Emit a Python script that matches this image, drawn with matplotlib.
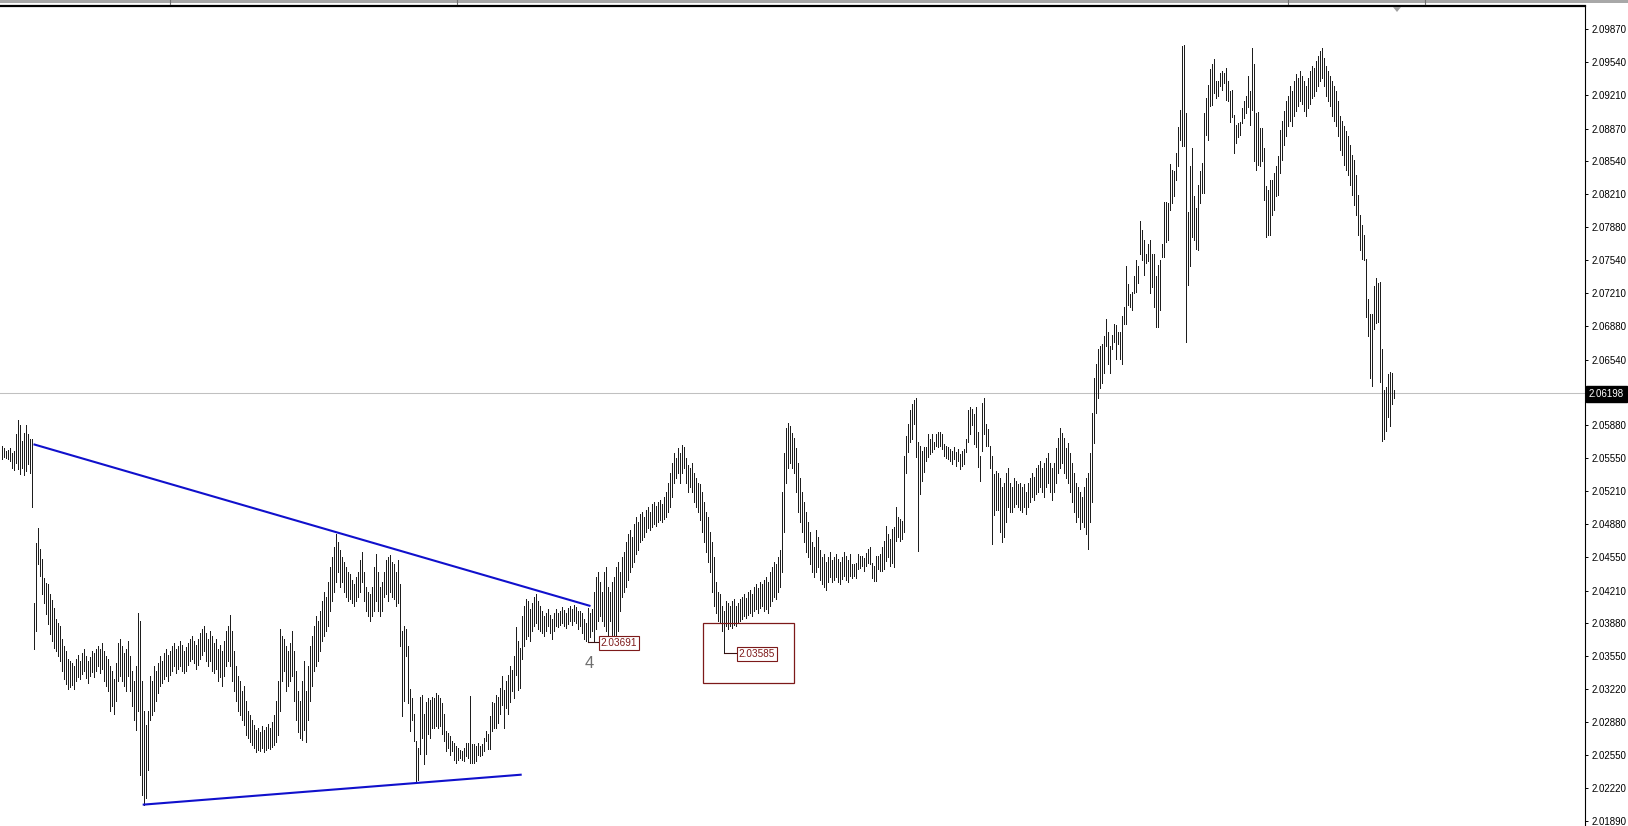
import matplotlib
matplotlib.use("Agg")
import matplotlib.pyplot as plt
from matplotlib.patches import Rectangle, Polygon
from matplotlib.lines import Line2D

# ---------------- data: bar highs / lows (one bar per index) ----------------
highs = [
    2.0567, 2.0565, 2.0562, 2.0563, 2.0565, 2.0560, 2.0562, 2.0579, 2.0593, 2.0588,
    2.0572, 2.0580, 2.0588, 2.0579, 2.0574, 2.0574, 2.0408, 2.0469, 2.0484, 2.0463,
    2.0453, 2.0434, 2.0429, 2.0428, 2.0418, 2.0411, 2.0403, 2.0392, 2.0388, 2.0385,
    2.0372, 2.0365, 2.0360, 2.0352, 2.0350, 2.0348, 2.0345, 2.0352, 2.0356, 2.0350,
    2.0358, 2.0362, 2.0355, 2.0350, 2.0354, 2.0360, 2.0358, 2.0362, 2.0365, 2.0362,
    2.0368, 2.0360, 2.0355, 2.0352, 2.0345, 2.0340, 2.0332, 2.0348, 2.0368, 2.0372,
    2.0365, 2.0358, 2.0362, 2.0370, 2.0355, 2.0340, 2.0330, 2.0345, 2.0398, 2.0390,
    2.0330, 2.0300, 2.0285, 2.0300, 2.0335, 2.0330, 2.0345, 2.0340, 2.0348, 2.0355,
    2.0350, 2.0358, 2.0362, 2.0356, 2.0360, 2.0365, 2.0368, 2.0362, 2.0365, 2.0370,
    2.0366, 2.0360, 2.0364, 2.0368, 2.0372, 2.0375, 2.0370, 2.0366, 2.0372, 2.0378,
    2.0382, 2.0385, 2.0378, 2.0372, 2.0380, 2.0375, 2.0368, 2.0372, 2.0362, 2.0366,
    2.0360, 2.0370, 2.0380, 2.0385, 2.0396, 2.0380, 2.0360, 2.0345, 2.0335, 2.0330,
    2.0320, 2.0325, 2.0310, 2.0300, 2.0295, 2.0290, 2.0285, 2.0280, 2.0282, 2.0278,
    2.0284, 2.0280, 2.0283, 2.0286, 2.0282, 2.0288, 2.0295, 2.0310, 2.0330, 2.0382,
    2.0375, 2.0372, 2.0365, 2.0360, 2.0368, 2.0380, 2.0360, 2.0340, 2.0320, 2.0310,
    2.0330, 2.0350, 2.0320, 2.0345, 2.0365, 2.0375, 2.0385, 2.0395, 2.0390, 2.0400,
    2.0410, 2.0420, 2.0415, 2.0430, 2.0445, 2.0455, 2.0465, 2.0478, 2.0470, 2.0462,
    2.0455, 2.0450, 2.0445, 2.0440, 2.0438, 2.0432, 2.0428, 2.0435, 2.0440, 2.0452,
    2.0460, 2.0440, 2.0425, 2.0420, 2.0418, 2.0425, 2.0445, 2.0458, 2.0440, 2.0425,
    2.0430, 2.0440, 2.0452, 2.0455, 2.0457, 2.0450, 2.0448, 2.0440, 2.0452, 2.0428,
    2.0380, 2.0385, 2.0382, 2.0365, 2.0322, 2.0313, 2.0296, 2.0269, 2.0262, 2.0314,
    2.0316, 2.0296, 2.0309, 2.0313, 2.0311, 2.0314, 2.0313, 2.0318, 2.0316, 2.0313,
    2.0308, 2.0296, 2.0279, 2.0277, 2.0274, 2.0269, 2.0267, 2.0264, 2.0262, 2.0260,
    2.0259, 2.0262, 2.0267, 2.0267, 2.0315, 2.0266, 2.0266, 2.0264, 2.0267, 2.0264,
    2.0266, 2.0272, 2.0279, 2.0276, 2.0294, 2.0309, 2.0308, 2.0316, 2.0314, 2.0323,
    2.0335, 2.0321, 2.0330, 2.0336, 2.0345, 2.0341, 2.0355, 2.0384, 2.0370, 2.0363,
    2.0395, 2.0405, 2.0412, 2.0410, 2.0402, 2.0408, 2.0415, 2.0418, 2.0410, 2.0405,
    2.0400, 2.0395, 2.0398, 2.0402, 2.0396, 2.0392, 2.0398, 2.0402, 2.0398, 2.0400,
    2.0404, 2.0401, 2.0398, 2.0403, 2.0405, 2.0402, 2.0406, 2.0404, 2.0400, 2.0400,
    2.0398, 2.0392, 2.0388, 2.0403, 2.0398, 2.0402, 2.0420, 2.0435, 2.0440, 2.0430,
    2.0420, 2.0440, 2.0445, 2.0425, 2.0420, 2.0430, 2.0435, 2.0445, 2.0450, 2.0440,
    2.0455, 2.0460, 2.0470, 2.0478, 2.0482, 2.0475, 2.0488, 2.0495, 2.0490, 2.0498,
    2.0500, 2.0495, 2.0502, 2.0505, 2.0500, 2.0508, 2.0510, 2.0506, 2.0510, 2.0512,
    2.0508, 2.0515, 2.0520, 2.0530, 2.0540, 2.0550, 2.0560, 2.0555, 2.0565, 2.0560,
    2.0568, 2.0566, 2.0555, 2.0548, 2.0545, 2.0550, 2.0540, 2.0535, 2.0530, 2.0528,
    2.0520, 2.0510, 2.0500, 2.0495, 2.0480, 2.0470, 2.0455, 2.0430, 2.0420, 2.0418,
    2.0405, 2.0400, 2.0410, 2.0408, 2.0405, 2.0410, 2.0412, 2.0405, 2.0408, 2.0412,
    2.0415, 2.0418, 2.0414, 2.0420, 2.0422, 2.0418, 2.0425, 2.0428, 2.0424, 2.0430,
    2.0428, 2.0432, 2.0435, 2.0430, 2.0440, 2.0445, 2.0450, 2.0448, 2.0455, 2.0462,
    2.0520, 2.0560, 2.0585, 2.0590, 2.0587, 2.0580, 2.0575, 2.0565, 2.0550, 2.0535,
    2.0520, 2.0510, 2.0500, 2.0490, 2.0480, 2.0470, 2.0465, 2.0482, 2.0475, 2.0462,
    2.0455, 2.0458, 2.0450, 2.0455, 2.0460, 2.0452, 2.0455, 2.0458, 2.0453, 2.0450,
    2.0455, 2.0460, 2.0456, 2.0452, 2.0458, 2.0448, 2.0448, 2.0449, 2.0458, 2.0456,
    2.0456, 2.0454, 2.0459, 2.0463, 2.0465, 2.0449, 2.0446, 2.0456, 2.0456, 2.0458,
    2.0465, 2.0471, 2.0486, 2.0478, 2.0473, 2.0483, 2.0485, 2.0505, 2.0495, 2.0493,
    2.0491, 2.0557, 2.0577, 2.0589, 2.0603, 2.0609, 2.0613, 2.0615, 2.0571, 2.0567,
    2.0562, 2.0566, 2.0566, 2.0579, 2.0574, 2.0579, 2.0571, 2.0579, 2.0581, 2.0581,
    2.0579, 2.0569, 2.0567, 2.0566, 2.0564, 2.0562, 2.0566, 2.0561, 2.0564, 2.0559,
    2.0562, 2.0564, 2.0574, 2.0603, 2.0606, 2.0604, 2.0599, 2.0606, 2.0581, 2.0557,
    2.0610, 2.0615, 2.0589, 2.0584, 2.0567, 2.0557, 2.0539, 2.0542, 2.0540, 2.0535,
    2.0525, 2.0530, 2.0540, 2.0545, 2.0530, 2.0525, 2.0535, 2.0532, 2.0528, 2.0530,
    2.0525, 2.0528, 2.0520, 2.0530, 2.0535, 2.0540, 2.0536, 2.0545, 2.0548, 2.0552,
    2.0545, 2.0550, 2.0555, 2.0560, 2.0550, 2.0545, 2.0550, 2.0565, 2.0575, 2.0585,
    2.0580, 2.0575, 2.0565, 2.0570, 2.0560, 2.0550, 2.0540, 2.0530, 2.0525, 2.0520,
    2.0515, 2.0525, 2.0535, 2.0540, 2.0560, 2.0600, 2.0635, 2.0650, 2.0665, 2.0668,
    2.0670, 2.0678, 2.0695, 2.0682, 2.0668, 2.0679, 2.0690, 2.0689, 2.0682, 2.0682,
    2.0698, 2.0707, 2.0748, 2.0730, 2.0720, 2.0722, 2.0738, 2.0754, 2.0748, 2.0794,
    2.0785, 2.0775, 2.0761, 2.0771, 2.0775, 2.0761, 2.0761, 2.0738, 2.0749, 2.0754,
    2.0771, 2.0813, 2.0813, 2.0812, 2.0851, 2.0845, 2.0844, 2.0862, 2.0889, 2.0906,
    2.0970, 2.0971, 2.0903, 2.0803, 2.0849, 2.0867, 2.0819, 2.0807, 2.0830, 2.0844,
    2.0852, 2.0903, 2.0918, 2.0931, 2.0947, 2.0952, 2.0957, 2.0935, 2.0935, 2.0943,
    2.0945, 2.0943, 2.0948, 2.0935, 2.0925, 2.0926, 2.0901, 2.0891, 2.0893, 2.0894,
    2.0908, 2.0915, 2.0920, 2.0940, 2.0925, 2.0968, 2.0952, 2.0903, 2.0904, 2.0888,
    2.0888, 2.0867, 2.0829, 2.0825, 2.0835, 2.0835, 2.0842, 2.0849, 2.0859, 2.0886,
    2.0895, 2.0905, 2.0915, 2.0920, 2.0930, 2.0925, 2.0935, 2.0942, 2.0938, 2.0945,
    2.0940, 2.0935, 2.0930, 2.0938, 2.0945, 2.0950, 2.0948, 2.0955, 2.0960, 2.0965,
    2.0968, 2.0958, 2.0950, 2.0945, 2.0940, 2.0935, 2.0930, 2.0925, 2.0915, 2.0900,
    2.0895, 2.0890, 2.0885, 2.0880, 2.0870, 2.0860, 2.0855, 2.0840, 2.0820, 2.0800,
    2.0790, 2.0780, 2.0755, 2.0715, 2.0700, 2.0700, 2.0728, 2.0736, 2.0731, 2.0732,
    2.0665, 2.0623, 2.0626, 2.0639, 2.0641, 2.0640, 2.0623,
]
lows = [
    2.0554, 2.0556, 2.0555, 2.0554, 2.0552, 2.0545, 2.0543, 2.0550, 2.0544, 2.0539,
    2.0545, 2.0538, 2.0542, 2.0549, 2.0540, 2.0505, 2.0362, 2.0380, 2.0448, 2.0436,
    2.0418, 2.0408, 2.0397, 2.0387, 2.0377, 2.0370, 2.0363, 2.0360, 2.0355, 2.0350,
    2.0340, 2.0332, 2.0327, 2.0322, 2.0324, 2.0326, 2.0322, 2.0330, 2.0334, 2.0332,
    2.0337, 2.0340, 2.0333, 2.0328, 2.0335, 2.0339, 2.0334, 2.0340, 2.0345, 2.0338,
    2.0342, 2.0330, 2.0325, 2.0320, 2.0300, 2.0305, 2.0296, 2.0310, 2.0330, 2.0335,
    2.0330, 2.0325, 2.0320, 2.0335, 2.0320, 2.0305, 2.0290, 2.0280, 2.0300, 2.0235,
    2.0215, 2.0205, 2.0212, 2.0240, 2.0290, 2.0295, 2.0300, 2.0310, 2.0318, 2.0325,
    2.0328, 2.0332, 2.0335, 2.0330, 2.0336, 2.0340, 2.0345, 2.0338, 2.0342, 2.0345,
    2.0340, 2.0338, 2.0340, 2.0346, 2.0350, 2.0352, 2.0348, 2.0342, 2.0346, 2.0352,
    2.0356, 2.0360, 2.0350, 2.0345, 2.0350, 2.0340, 2.0338, 2.0342, 2.0330, 2.0334,
    2.0325, 2.0335, 2.0345, 2.0350, 2.0345, 2.0330, 2.0320, 2.0310, 2.0300, 2.0295,
    2.0290, 2.0285, 2.0275, 2.0272, 2.0268, 2.0265, 2.0262, 2.0258, 2.0260, 2.0259,
    2.0262, 2.0258, 2.0260, 2.0262, 2.0261, 2.0263, 2.0265, 2.0268, 2.0275, 2.0300,
    2.0330, 2.0340, 2.0320, 2.0325, 2.0330, 2.0335, 2.0310, 2.0290, 2.0278, 2.0272,
    2.0270, 2.0280, 2.0268, 2.0290, 2.0310, 2.0325, 2.0340, 2.0345, 2.0350, 2.0360,
    2.0370, 2.0375, 2.0380, 2.0385, 2.0400, 2.0410, 2.0420, 2.0430, 2.0440, 2.0425,
    2.0430, 2.0420, 2.0415, 2.0410, 2.0412, 2.0408, 2.0405, 2.0410, 2.0415, 2.0420,
    2.0430, 2.0410, 2.0400, 2.0395, 2.0390, 2.0395, 2.0400, 2.0410, 2.0400, 2.0395,
    2.0400, 2.0415, 2.0418, 2.0410, 2.0420, 2.0415, 2.0412, 2.0405, 2.0408, 2.0365,
    2.0294, 2.0310, 2.0355, 2.0308, 2.0279, 2.0290, 2.0269, 2.0228, 2.0230, 2.0256,
    2.0272, 2.0246, 2.0256, 2.0276, 2.0272, 2.0282, 2.0282, 2.0284, 2.0282, 2.0284,
    2.0276, 2.0269, 2.0259, 2.0262, 2.0255, 2.0259, 2.0250, 2.0247, 2.0250, 2.0252,
    2.0250, 2.0249, 2.0254, 2.0252, 2.0247, 2.0247, 2.0247, 2.0249, 2.0255, 2.0254,
    2.0255, 2.0259, 2.0269, 2.0261, 2.0261, 2.0279, 2.0282, 2.0282, 2.0287, 2.0296,
    2.0306, 2.0282, 2.0303, 2.0296, 2.0309, 2.0320, 2.0313, 2.0336, 2.0321, 2.0323,
    2.0352, 2.0365, 2.0372, 2.0375, 2.0370, 2.0380, 2.0385, 2.0388, 2.0382, 2.0380,
    2.0378, 2.0375, 2.0380, 2.0385, 2.0378, 2.0372, 2.0380, 2.0385, 2.0384, 2.0386,
    2.0388, 2.0385, 2.0383, 2.0387, 2.0390, 2.0386, 2.0390, 2.0388, 2.0382, 2.0385,
    2.0378, 2.0372, 2.0370, 2.03691, 2.0374, 2.0380, 2.0370, 2.0382, 2.0390, 2.0395,
    2.0390, 2.0385, 2.0380, 2.0375, 2.0390, 2.0372, 2.0371, 2.0372, 2.0380, 2.0400,
    2.0415, 2.0420, 2.0425, 2.0432, 2.0440, 2.0445, 2.0450, 2.0458, 2.0462, 2.0470,
    2.0472, 2.0475, 2.0480, 2.0484, 2.0482, 2.0485, 2.0488, 2.0486, 2.0490, 2.0492,
    2.0490, 2.0493, 2.0495, 2.0500, 2.0505, 2.0515, 2.0530, 2.0535, 2.0540, 2.0530,
    2.0540, 2.0545, 2.0530, 2.0520, 2.0525, 2.0520, 2.0510, 2.0505, 2.0500, 2.0492,
    2.0480, 2.0470, 2.0460, 2.0450, 2.0440, 2.0420, 2.0405, 2.0398, 2.0390, 2.0388,
    2.0380, 2.03585, 2.0385, 2.0382, 2.0385, 2.0383, 2.0386, 2.0385, 2.0388, 2.0390,
    2.0392, 2.0395, 2.0393, 2.0396, 2.0398, 2.0395, 2.0400, 2.0402, 2.0398, 2.0403,
    2.0405, 2.0400, 2.0402, 2.0398, 2.0405, 2.0410, 2.0415, 2.0412, 2.0420, 2.0425,
    2.0440, 2.0480, 2.0530, 2.0545, 2.0550, 2.0545, 2.0540, 2.0520, 2.0500, 2.0490,
    2.0480, 2.0470, 2.0460, 2.0455, 2.0448, 2.0440, 2.0435, 2.0440, 2.0445, 2.0432,
    2.0428, 2.0425, 2.0422, 2.0430, 2.0435, 2.0430, 2.0432, 2.0435, 2.0430, 2.0428,
    2.0433, 2.0436, 2.0432, 2.0430, 2.0436, 2.0434, 2.0436, 2.0434, 2.0443, 2.0444,
    2.0446, 2.0441, 2.0446, 2.0449, 2.0448, 2.0434, 2.0431, 2.0431, 2.0443, 2.0441,
    2.0441, 2.0443, 2.0451, 2.0455, 2.0446, 2.0449, 2.0445, 2.0471, 2.0475, 2.0471,
    2.0473, 2.0480, 2.0540, 2.0561, 2.0571, 2.0574, 2.0589, 2.0556, 2.0461, 2.0518,
    2.0532, 2.0541, 2.0552, 2.0556, 2.0559, 2.0561, 2.0564, 2.0567, 2.0566, 2.0567,
    2.0564, 2.0557, 2.0555, 2.0554, 2.0552, 2.0549, 2.0554, 2.0547, 2.0552, 2.0544,
    2.0547, 2.0549, 2.0561, 2.0571, 2.0579, 2.0588, 2.0569, 2.0566, 2.0546, 2.0532,
    2.0562, 2.0579, 2.0567, 2.0567, 2.0545, 2.0468, 2.0497, 2.0502, 2.0502, 2.0480,
    2.0470, 2.0475, 2.0490, 2.0505, 2.0500, 2.0500, 2.0505, 2.0508, 2.0505, 2.0502,
    2.0500, 2.0505, 2.0498, 2.0505, 2.0510, 2.0515, 2.0512, 2.0518, 2.0520, 2.0525,
    2.0520, 2.0515, 2.0525, 2.0530, 2.0520, 2.0512, 2.0520, 2.0530, 2.0540, 2.0545,
    2.0550, 2.0540, 2.0535, 2.0530, 2.0520, 2.0510, 2.0500, 2.0490, 2.0495, 2.0483,
    2.0490, 2.0485, 2.0478, 2.0463, 2.0490, 2.0510, 2.0570, 2.0600, 2.0615, 2.0625,
    2.0630, 2.0640, 2.0668, 2.0650, 2.0640, 2.0665, 2.0672, 2.0655, 2.0670, 2.0655,
    2.0650, 2.0690, 2.0690, 2.0709, 2.0707, 2.0704, 2.0721, 2.0722, 2.0731, 2.0761,
    2.0754, 2.0739, 2.0751, 2.0753, 2.0721, 2.0727, 2.0707, 2.0687, 2.0687, 2.0704,
    2.0758, 2.0758, 2.0773, 2.0775, 2.0805, 2.0812, 2.0819, 2.0835, 2.0849, 2.0876,
    2.0869, 2.0869, 2.0672, 2.0729, 2.0748, 2.0778, 2.0775, 2.0766, 2.0765, 2.0812,
    2.0822, 2.0822, 2.0881, 2.0876, 2.0910, 2.0911, 2.0923, 2.0918, 2.0920, 2.0930,
    2.0926, 2.0933, 2.0916, 2.0915, 2.0894, 2.0899, 2.0862, 2.0872, 2.0879, 2.0881,
    2.0893, 2.0898, 2.0903, 2.0909, 2.0891, 2.0906, 2.0854, 2.0845, 2.0850, 2.0849,
    2.0854, 2.0815, 2.0778, 2.0780, 2.0780, 2.0800, 2.0805, 2.0819, 2.0820, 2.0842,
    2.0855, 2.0870, 2.0880, 2.0890, 2.0895, 2.0890, 2.0900, 2.0905, 2.0910, 2.0915,
    2.0912, 2.0905, 2.0900, 2.0908, 2.0912, 2.0918, 2.0920, 2.0925, 2.0930, 2.0935,
    2.0938, 2.0930, 2.0920, 2.0915, 2.0910, 2.0900, 2.0895, 2.0890, 2.0880, 2.0865,
    2.0860, 2.0850, 2.0845, 2.0840, 2.0830, 2.0820, 2.0810, 2.0800, 2.0780, 2.0765,
    2.0755, 2.0754, 2.0697, 2.0678, 2.0635, 2.0627, 2.0685, 2.0691, 2.0692, 2.0631,
    2.0572, 2.0574, 2.0582, 2.0596, 2.0587, 2.0609, 2.0615,
]

tick_labels = ["2.09870", "2.09540", "2.09210", "2.08870", "2.08540", "2.08210",
               "2.07880", "2.07540", "2.07210", "2.06880", "2.06540", "2.05880",
               "2.05550", "2.05210", "2.04880", "2.04550", "2.04210", "2.03880",
               "2.03550", "2.03220", "2.02880", "2.02550", "2.02220", "2.01890"]
tick_values = [float(t) for t in tick_labels]

current_price = 2.06198

upper_trend_x = [16.0, 294.5]
upper_trend_y = [2.05686, 2.04054]
lower_trend_x = [70.6, 260.1]
lower_trend_y = [2.02050, 2.02353]

mark_index = [293, 361]
mark_price = [2.03691, 2.03585]
mark_text = ["2.03691", "2.03585"]
mark_box_x = [298.5, 367.5]

rect_x = [350.5, 396.0]
rect_y = [2.03277, 2.03883]

wave_label = "4"
wave_x = 294.0
wave_y = 2.03479

# ---------------- figure ----------------
W, H = 1628, 826
FONT = "Liberation Sans"
fig = plt.figure(figsize=(W / 100, H / 100), dpi=100)
fig.patch.set_facecolor("white")

ax_right = 1585
ax_top = 6
ax = fig.add_axes([0, 0, ax_right / W, (H - ax_top) / H])
ax.set_facecolor("white")

n = min(len(highs), len(lows))
xs = list(range(n))
ax.vlines(xs, lows[:n], highs[:n], colors="#1e1e1e", linewidth=0.5,
          antialiased=False, zorder=3)

# current price line
ax.axhline(current_price, color="#c0c0c0", linewidth=0.75, zorder=1)

# trend lines
ax.plot(upper_trend_x, upper_trend_y, color="#1010cc", linewidth=1.5,
        solid_capstyle="butt", zorder=4)
ax.plot(lower_trend_x, lower_trend_y, color="#1010cc", linewidth=1.5,
        solid_capstyle="butt", zorder=4)

maroon = "#7d1a1a"
# rectangle
ax.add_patch(Rectangle((rect_x[0], rect_y[0]), rect_x[1] - rect_x[0],
                       rect_y[1] - rect_y[0], fill=False, edgecolor=maroon,
                       linewidth=0.9, zorder=5))

# price marks
for xi, pr, tx, bx in zip(mark_index, mark_price, mark_text, mark_box_x):
    ax.plot([xi, bx], [pr, pr], color="#3a1010", linewidth=0.8, zorder=5)
    ax.text(bx + 1.0, pr - 0.00012, tx, fontsize=7.2, family=FONT, color=maroon,
            ha="left", va="center", zorder=6,
            bbox=dict(boxstyle="square,pad=0.18", facecolor="white",
                      edgecolor=maroon, linewidth=0.8))

ax.text(wave_x, wave_y, wave_label, fontsize=12, family=FONT, color="#6e6e6e",
        ha="center", va="center", zorder=6)

# axes limits (pixel-calibrated); bars centred on pixel columns
px_per_price = 1.0 / 0.00010088
y_top = 2.09870 + (29.5 - ax_top) / px_per_price
y_bot = 2.09870 - (H - 29.5) / px_per_price
ax.set_ylim(y_bot, y_top)
ax.set_xlim(-0.75, 791.75)

# spines
for s in ["left", "bottom"]:
    ax.spines[s].set_visible(False)
ax.spines["top"].set_linewidth(1.6)
ax.spines["top"].set_color("black")
ax.spines["right"].set_linewidth(0.8)
ax.spines["right"].set_color("black")

ax.set_xticks([])
ax.yaxis.tick_right()
ax.set_yticks(tick_values)
ax.set_yticklabels(tick_labels)
ax.tick_params(axis="y", direction="out", length=2.5, width=0.7, pad=2.0,
               labelsize=7, colors="black")
for lab in ax.get_yticklabels():
    lab.set_family(FONT)

# current price tag
fig.text(1589 / W, 1 - 394 / H, f"{current_price:.5f}", fontsize=7, family=FONT,
         color="white", ha="left", va="center",
         bbox=dict(boxstyle="square,pad=0.3", facecolor="black", edgecolor="black"))

# top toolbar strip
fig.add_artist(Rectangle((0, 1 - 3 / H), 1, 3 / H, transform=fig.transFigure,
                         facecolor="#a8a8a8", edgecolor="none"))
for sx in [170, 457, 1288, 1425]:
    fig.add_artist(Line2D([sx / W, sx / W], [1, 1 - 4 / H], transform=fig.transFigure,
                          color="#707070", linewidth=0.8))
# shift marker
tri = [(1393 / W, 1 - 7 / H), (1401 / W, 1 - 7 / H), (1397 / W, 1 - 12 / H)]
fig.add_artist(Polygon(tri, closed=True, transform=fig.transFigure,
                       facecolor="#a0a0a0", edgecolor="none"))

fig.savefig("out.png", dpi=100, facecolor="white")
